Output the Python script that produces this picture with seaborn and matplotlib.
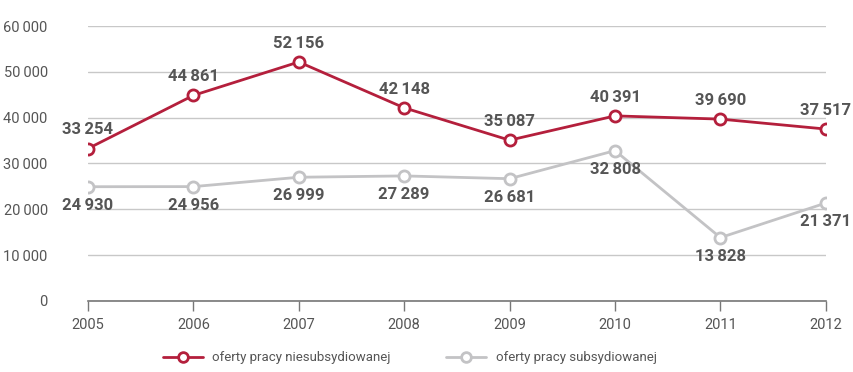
import numpy as np
import pandas as pd
import seaborn as sns
import matplotlib.pyplot as plt

years = [2005, 2006, 2007, 2008, 2009, 2010, 2011, 2012]
niesubs = [33254, 44861, 52156, 42148, 35087, 40391, 39690, 37517]
subs = [24930, 24956, 26999, 27289, 26681, 32808, 13828, 21371]
yticks = [0, 10000, 20000, 30000, 40000, 50000, 60000]
names = ['oferty pracy niesubsydiowanej', 'oferty pracy subsydiowanej']

red = '#b41f3c'
grey = '#c3c3c5'
txt = '#555555'

sns.set_theme(style='white')
plt.rcParams['font.family'] = ['Roboto', 'DejaVu Sans']

df = pd.DataFrame({'year': years * 2,
                   'value': niesubs + subs,
                   'series': [names[0]] * len(years) + [names[1]] * len(years)})

fig = plt.figure(figsize=(8.54, 3.72), dpi=100)
ax = fig.add_axes([0.103, 0.191, 0.864, 0.739])

sns.lineplot(data=df, x='year', y='value', hue='series',
             palette=[red, grey], marker='o', markersize=8,
             markerfacecolor='white', markeredgewidth=2, linewidth=2,
             ax=ax, legend=False, zorder=3)
for line, c in zip(ax.lines, [red, grey]):
    line.set_markeredgecolor(c)

def fmt(v):
    return f'{v:,}'.replace(',', '\u2009')

for x, v in zip(years, niesubs):
    ax.annotate(fmt(v), (x, v), xytext=(0, 8), textcoords='offset points',
                ha='center', va='bottom', fontsize=12, fontweight='bold', color=txt)
for x, v in zip(years, subs):
    ax.annotate(fmt(v), (x, v), xytext=(0, -8), textcoords='offset points',
                ha='center', va='top', fontsize=12, fontweight='bold', color=txt)

ax.set_xlim(2005, 2012)
ax.set_ylim(0, 60000)
ax.set_yticks(yticks)
ax.set_yticklabels([fmt(t) for t in yticks])
ax.set_xticks(years)
ax.grid(axis='y', color='#c8c8c8', linewidth=1)
ax.set_axisbelow(True)
for s in ['top', 'right', 'left']:
    ax.spines[s].set_visible(False)
ax.spines['bottom'].set_color('#777777')
ax.spines['bottom'].set_linewidth(1.2)
ax.tick_params(axis='x', bottom=True, length=7, width=1, color='#777777',
               labelsize=10.5, labelcolor=txt, pad=5)
ax.tick_params(axis='y', left=False, labelsize=10.5, labelcolor=txt, pad=23)
ax.set_xlabel('')
ax.set_ylabel('')

handles = [plt.Line2D([], [], color=c, marker='o', markersize=7,
                      markerfacecolor='white', markeredgecolor=c,
                      markeredgewidth=2, linewidth=2) for c in [red, grey]]
fig.legend(handles, names, loc='center', bbox_to_anchor=(0.48, 0.038),
           ncol=2, frameon=False, fontsize=9.5, labelcolor=txt,
           handlelength=3.0, columnspacing=4.2, handletextpad=0.75)

fig.savefig('out.png', dpi=100)
